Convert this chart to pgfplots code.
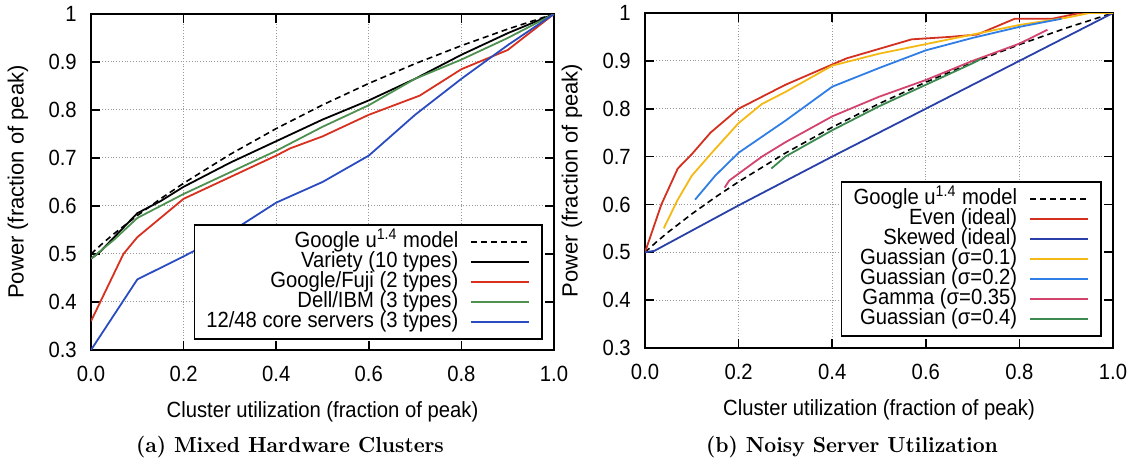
\documentclass[border=0pt]{standalone}
\usepackage{fontspec}
\usepackage{graphicx}
\usepackage{pgfplots}
\pgfplotsset{compat=1.18}
\newfontfamily\arial[FakeStretch=0.92]{Liberation Sans}
\newfontfamily\arialv{Liberation Sans}

\definecolor{cRedA}{HTML}{D7301F}
\definecolor{cGreenA}{HTML}{4E9150}
\definecolor{cBlueA}{HTML}{2A4CC0}
\definecolor{cRedB}{HTML}{D33020}
\definecolor{cBlueB}{HTML}{2840A8}
\definecolor{cYellow}{HTML}{F5B915}
\definecolor{cLBlue}{HTML}{2F7EE6}
\definecolor{cPink}{HTML}{D2446E}
\definecolor{cGreenB}{HTML}{3C8A50}

\pgfplotsset{
  myaxis/.style={
    scale only axis,
    xmin=0, xmax=1, ymin=0.3, ymax=1,
    xtick={0,0.2,0.4,0.6,0.8,1},
    xticklabels={0.0,0.2,0.4,0.6,0.8,1.0},
    ytick={0.3,0.4,0.5,0.6,0.7,0.8,0.9,1},
    yticklabels={0.3,0.4,0.5,0.6,0.7,0.8,0.9,1},
    /pgf/number format/assume math mode=true,
    tick align=inside, tick pos=both, major tick length=4.5pt,
    grid=major,
    grid style={densely dotted, gray!80, line width=0.5pt},
    axis line style={line width=1pt},
    every tick/.style={black, line width=0.8pt},
    font=\arial\fontsize{11}{13}\selectfont,
    xticklabel style={anchor=north, yshift=-4.3pt},
    yticklabel style={anchor=east, xshift=-3.6pt},
    xlabel={Cluster utilization (fraction of peak)},
    ylabel={Power (fraction of peak)},
    xlabel style={at={(axis description cs:0.5,-0.1845)}, anchor=center},
    legend plot pos=right,
    legend cell align=right,
    legend image code/.code={\draw[##1] (0pt,0pt) -- (29pt,0pt);},
    legend style={draw=black, line width=0.8pt, inner xsep=6pt, inner ysep=3.5pt,
      /tikz/column sep=6pt, /tikz/row sep=0pt,
      nodes={inner sep=0pt, text height=7.5pt, text depth=2.5pt},
      font=\arial\fontsize{11}{13}\selectfont},
  },
  gdash/.style={black, line width=0.8pt, dash pattern=on 3pt off 2pt},
}

\begin{document}
\begin{tikzpicture}
\useasboundingbox (0,0) rectangle (564pt,229pt);

% ---------------- (a) ----------------
\begin{axis}[myaxis,
  at={(45.5pt,54pt)}, anchor=south west,
  width=231.5pt, height=168pt,
  ylabel style={at={(axis description cs:-0.158,0.5)}, anchor=center,
    font=\arialv\fontsize{11}{13}\selectfont},
  legend style={at={(axis description cs:0.976,0.030)}, anchor=south east},
]
\addplot[gdash] coordinates {
(0,0.5) (0.025,0.5221) (0.05,0.5425) (0.1,0.5801) (0.15,0.6149) (0.2,0.6474)
(0.3,0.7073) (0.4,0.7613) (0.5,0.8105) (0.6,0.8554) (0.7,0.8965)
(0.8,0.9341) (0.9,0.9686) (1,1)};
\addlegendentry{Google u\textsuperscript{1.4} model}
\addplot[black, line width=0.9pt] coordinates {
(0,0.49) (0.02,0.505) (0.05,0.535) (0.08,0.565) (0.1,0.585) (0.15,0.61)
(0.2,0.64) (0.3,0.69) (0.4,0.735) (0.5,0.78) (0.6,0.82) (0.7,0.865)
(0.8,0.915) (0.9,0.96) (1,1)};
\addlegendentry{Variety (10 types)}
\addplot[cRedA, line width=0.9pt] coordinates {
(0,0.36) (0.07,0.50) (0.1,0.535) (0.15,0.575) (0.2,0.615) (0.3,0.66)
(0.4,0.705) (0.43,0.72) (0.5,0.745) (0.6,0.79) (0.71,0.83) (0.8,0.885)
(0.9,0.925) (1,1)};
\addlegendentry{Google/Fuji (2 types)}
\addplot[cGreenA, line width=0.9pt] coordinates {
(0,0.49) (0.05,0.53) (0.1,0.575) (0.15,0.60) (0.2,0.625) (0.3,0.67)
(0.4,0.715) (0.5,0.765) (0.6,0.81) (0.7,0.865) (0.8,0.905) (0.9,0.95) (1,1)};
\addlegendentry{Dell/IBM (3 types)}
\addplot[cBlueA, line width=0.9pt] coordinates {
(0,0.30) (0.1,0.447) (0.2,0.495) (0.3,0.545) (0.4,0.607) (0.5,0.65)
(0.6,0.705) (0.7,0.79) (0.8,0.865) (0.9,0.935) (1,1)};
\addlegendentry{12/48 core servers (3 types)}
\end{axis}

% ---------------- (b) ----------------
\begin{axis}[myaxis,
  at={(322.5pt,55pt)}, anchor=south west,
  width=234pt, height=167.5pt,
  ylabel style={at={(axis description cs:-0.156,0.5)}, anchor=center,
    font=\arialv\fontsize{11}{13}\selectfont},
  legend style={at={(axis description cs:0.976,0.033)}, anchor=south east},
]
\addplot[gdash] coordinates {
(0,0.5) (0.025,0.5221) (0.05,0.5425) (0.1,0.5801) (0.15,0.6149) (0.2,0.6474)
(0.3,0.7073) (0.4,0.7613) (0.5,0.8105) (0.6,0.8554) (0.7,0.8965)
(0.8,0.9341) (0.9,0.9686) (1,1)};
\addlegendentry{Google u\textsuperscript{1.4} model}
\addplot[cRedB, line width=0.9pt] coordinates {
(0,0.5) (0.035,0.60) (0.07,0.675) (0.1,0.705) (0.14,0.75) (0.2,0.80)
(0.3,0.85) (0.43,0.905) (0.5,0.925) (0.57,0.945) (0.65,0.95) (0.71,0.955)
(0.79,0.988) (0.87,0.988) (0.93,1.0) (1,1)};
\addlegendentry{Even (ideal)}
\addplot[cBlueB, line width=0.9pt] coordinates {
(0,0.5) (0.02,0.503) (0.2,0.598) (0.4,0.70) (0.6,0.80) (0.8,0.90) (1,1)};
\addlegendentry{Skewed (ideal)}
\addplot[cYellow, line width=0.9pt] coordinates {
(0.04,0.55) (0.07,0.61) (0.1,0.66) (0.14,0.705) (0.2,0.77) (0.25,0.81)
(0.3,0.835) (0.4,0.89) (0.5,0.915) (0.6,0.935) (0.7,0.955) (0.8,0.975)
(0.9,0.99) (0.95,1.0) (1,1)};
\addlegendentry{Guassian (σ=0.1)}
\addplot[cLBlue, line width=0.9pt] coordinates {
(0.107,0.61) (0.15,0.66) (0.2,0.708) (0.3,0.775) (0.4,0.846) (0.5,0.885)
(0.6,0.922) (0.7,0.948) (0.8,0.971) (0.89,0.988)};
\addlegendentry{Guassian (σ=0.2)}
\addplot[cPink, line width=0.9pt] coordinates {
(0.17,0.635) (0.18,0.65) (0.25,0.70) (0.3,0.73) (0.4,0.784) (0.5,0.825)
(0.6,0.86) (0.7,0.90) (0.8,0.936) (0.86,0.965)};
\addlegendentry{Gamma (σ=0.35)}
\addplot[cGreenB, line width=0.9pt] coordinates {
(0.27,0.675) (0.3,0.70) (0.4,0.755) (0.5,0.805) (0.6,0.85) (0.7,0.895) (0.72,0.905)};
\addlegendentry{Guassian (σ=0.4)}
\end{axis}

\node[anchor=base, font=\fontsize{10.9}{13}\selectfont\bfseries] at (145pt,2.5pt) {\scalebox{0.95}[1]{(a) Mixed Hardware Clusters}};
\node[anchor=base, font=\fontsize{10.9}{13}\selectfont\bfseries] at (426pt,2.5pt) {\scalebox{0.95}[1]{(b) Noisy Server Utilization}};
\end{tikzpicture}
\end{document}
